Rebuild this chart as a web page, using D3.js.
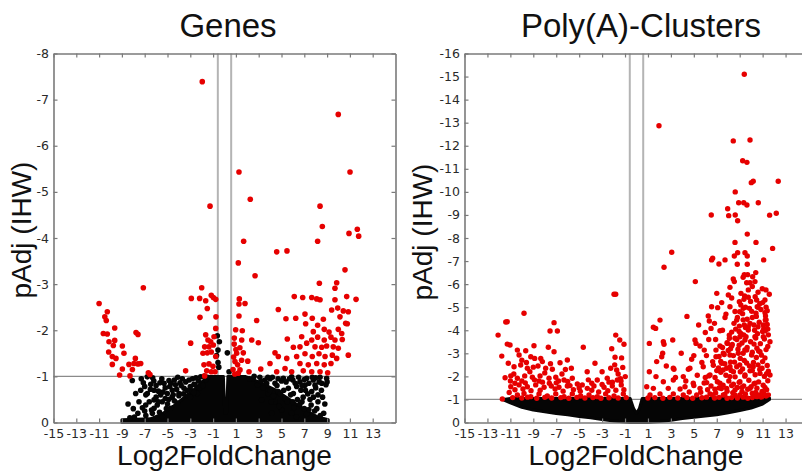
<!DOCTYPE html>
<html><head><meta charset="utf-8">
<script src="https://cdn.jsdelivr.net/npm/d3@7"></script>
<style>body{margin:0;background:#fff}svg{display:block}</style>
</head><body><svg id="chart" width="802" height="473"></svg>
<script>
// ---------------- data ----------------
const xTicks = [-15,-13,-11,-9,-7,-5,-3,-1,1,3,5,7,9,11,13];
const genesYTicks = [0,-1,-2,-3,-4,-5,-6,-7,-8];
const polyaYTicks = [0,-1,-2,-3,-4,-5,-6,-7,-8,-9,-10,-11,-12,-13,-14,-15,-16];
const foldThreshold = 0.585;
const padjThreshold = -1;
const panelTitles = ["Genes","Poly(A)-Clusters"];
const xTitle = "Log2FoldChange";
const yTitle = "pAdj (IHW)";

// Genes: saturated black core (x, upper edge)
const genesCoreX   = [-9.0,-6.5,-5.5,-4.5,-3.5,-2.5,-1.8,-1.3,-0.1,0.02,0.18,0.3,1.8,3.0,4.5,6.0,7.2,8.2,9.1];
const genesCoreTop = [-0.06,-0.08,-0.18,-0.35,-0.55,-0.75,-0.92,-1.0,-1.0,-0.2,-0.2,-1.0,-1.0,-0.88,-0.7,-0.45,-0.25,-0.12,-0.06];

const genesBlack = [
[-6.77,-0.99],[-8.09,-0.91],[-7.12,-0.86],[-7.0,-0.78],[-6.47,-0.83],[-6.18,-0.70],[-5.66,-0.86],[-4.87,-0.91],[-3.90,-0.86],[-3.11,-0.92],
[-6.18,-0.49],[-8.46,-0.40],[-5.6,-0.60],[-5.02,-0.63],[-4.58,-0.70],[-3.99,-0.63],[-3.55,-0.74],[-2.96,-0.70],[-2.68,-0.83],[-6.18,-0.31],
[-5.46,-0.45],[-6.77,-0.63],[-7.35,-0.70],[-7.79,-0.63],[-6.33,-0.20],[-5.46,-0.13],[-6.91,-0.38],[-2.09,-0.99],[-1.65,-0.92],[-2.39,-0.63],
[-4.14,-0.42],[-4.72,-0.31],
[-7.6,-0.2],[-7.2,-0.32],[-6.9,-0.15],[-6.6,-0.45],[-6.4,-0.27],[-6.0,-0.55],[-5.9,-0.38],[-5.7,-0.22],[-5.4,-0.66],[-5.2,-0.52],
[-5.0,-0.4],[-4.8,-0.78],[-4.6,-0.55],[-4.4,-0.47],[-4.2,-0.72],[-4.0,-0.58],[-3.8,-0.8],[-3.6,-0.62],[-3.4,-0.88],[-3.2,-0.58],
[-3.0,-0.78],[-2.8,-0.95],[-2.6,-0.82],[-2.3,-0.9],[-2.0,-0.85],[-1.8,-1.0],[-7.9,-0.12],[-8.3,-0.1],[-6.2,-0.9],[-5.3,-0.85],[-4.4,-0.92],
[-7.3,-0.95],[-6.9,-0.6],[-6.5,-0.72],[-6.3,-0.97],[-6.0,-0.8],[-5.8,-0.68],[-5.5,-0.95],[-5.2,-0.75],[-4.9,-0.5],[-4.7,-0.85],
[-4.3,-0.82],[-4.1,-0.98],[-3.7,-0.95],[-3.3,-0.7],[-3.0,-0.55],[-2.7,-0.65],[-2.5,-0.97],[-2.2,-0.75],[-1.9,-0.8],[-1.5,-0.98],
[-7.5,-0.45],[-7.0,-0.25],[-8.0,-0.3],[-5.8,-0.45],[-5.1,-0.3],[-4.5,-0.6],
[-0.63,-1.88],[-0.57,-1.57],[-0.57,-1.3],[0.25,-1.51],[-0.45,-1.75],[-0.5,-1.2],[0.4,-1.1],[-0.7,-1.45],
[3.55,-0.92],[4.43,-0.85],[5.16,-0.96],[5.89,-0.99],[6.62,-0.88],[7.21,-0.96],[7.79,-0.92],[8.38,-0.98],[8.96,-0.96],[6.62,-0.40],
[3.84,-0.63],[4.72,-0.67],[5.6,-0.74],[6.33,-0.78],[7.06,-0.81],[7.94,-0.81],[5.31,-0.52],[6.04,-0.63],[4.43,-0.45],[3.26,-0.49],
[7.65,-0.67],[8.53,-0.85],[5.02,-0.27],[5.89,-0.2],[4.14,-0.2],[2.5,-0.95],[3.1,-0.98],[4.0,-0.95],[7.5,-0.5],[8.2,-0.6],[6.9,-0.55],
[2.2,-0.95],[2.6,-1.0],[2.9,-0.82],[3.2,-0.9],[3.4,-0.75],[3.7,-0.85],[4.0,-0.7],[4.3,-0.58],[4.6,-0.8],[4.9,-0.62],
[5.2,-0.7],[5.5,-0.45],[5.8,-0.6],[6.1,-0.32],[6.4,-0.5],[6.7,-0.7],[7.0,-0.3],[7.3,-0.62],[7.6,-0.38],[7.9,-0.25],
[8.2,-0.45],[8.5,-0.7],[8.7,-0.2],[8.9,-0.82],[5.0,-0.9],[6.0,-0.92],[7.0,-0.93],[8.0,-0.97],[4.1,-0.45],[4.8,-0.35],[6.3,-0.12],[7.2,-0.18],
[5.4,-0.88],[5.7,-0.95],[6.2,-0.85],[6.5,-0.98],[6.8,-0.8],[7.1,-0.7],[7.4,-0.85],[7.7,-0.98],[8.0,-0.75],[8.3,-0.88],
[8.6,-0.55],[8.8,-0.4],[9.0,-0.88],[7.8,-0.55],[7.4,-0.28],[8.1,-0.3],[8.4,-0.15],[6.8,-0.45],[6.0,-0.45],[4.2,-0.98],[3.8,-0.98],[4.7,-0.95]
];

const genesRed = [
[-1.95,-7.39],[-1.27,-4.69],[-7.12,-2.92],[-11.0,-2.58],[-10.28,-2.40],[-10.5,-2.29],[-10.37,-2.21],[-10.63,-1.93],[-10.28,-1.92],[-9.63,-2.05],
[-10.13,-1.75],[-9.63,-1.78],[-9.75,-1.67],[-8.96,-1.66],[-10.16,-1.53],[-9.84,-1.43],[-9.52,-1.39],[-9.84,-1.26],[-8.82,-1.50],[-8.96,-1.16],
[-9.2,-1.03],[-8.38,-1.26],[-8.08,-1.15],[-7.82,-1.39],[-7.94,-1.28],[-7.59,-1.27],[-7.35,-1.28],[-8.29,-1.01],[-7.76,-1.95],[-7.59,-1.91],
[-6.68,-1.08],[-6.54,-1.04],[-3.41,-1.12],[-2.97,-1.72],[-2.91,-2.69],[-2.0,-2.92],[-2.18,-2.69],[-1.65,-2.64],[-1.16,-2.76],[-0.98,-2.71],
[-0.77,-2.67],[-1.51,-2.47],[-2.15,-2.28],[-0.75,-2.29],[-0.77,-2.04],[-1.65,-1.90],[-1.45,-1.79],[-1.21,-1.75],[-0.92,-1.86],[-1.74,-1.64],
[-1.36,-1.64],[-0.98,-1.68],[-1.89,-1.5],[-1.51,-1.51],[-1.16,-1.53],[-0.77,-1.43],[-1.8,-1.25],[-1.36,-1.27],[-1.01,-1.22],[-1.56,-1.12],
[-1.16,-1.10],[-0.83,-1.10],[-1.74,-1.01],
[9.98,-6.68],[1.27,-5.43],[11.01,-5.43],[2.26,-4.84],[8.38,-4.69],[8.58,-4.25],[1.68,-3.93],[8.17,-3.93],[10.92,-4.10],[11.65,-4.19],
[11.77,-4.04],[4.58,-3.70],[5.48,-3.72],[1.21,-3.46],[2.68,-3.18],[10.57,-3.31],[8.32,-3.02],[9.84,-3.03],[9.69,-2.91],[1.30,-2.68],
[1.27,-2.57],[1.80,-2.58],[6.12,-2.73],[6.86,-2.71],[7.65,-2.71],[8.09,-2.68],[8.38,-2.66],[9.69,-2.66],[10.72,-2.73],[11.54,-2.67],
[4.72,-2.45],[9.40,-2.44],[9.93,-2.48],[10.42,-2.42],[10.86,-2.40],[1.27,-2.31],[5.39,-2.25],[6.25,-2.26],[7.06,-2.35],[7.70,-2.26],
[8.17,-2.11],[8.67,-2.24],[10.13,-2.29],[10.63,-2.15],[10.77,-2.14],[2.82,-2.21],[0.98,-2.01],[1.56,-1.99],[7.12,-2.14],[7.79,-1.97],
[8.75,-2.02],[9.17,-1.96],[9.98,-2.02],[10.28,-1.93],[0.86,-1.83],[1.51,-1.79],[2.39,-1.79],[2.97,-1.73],[5.51,-1.81],[6.77,-1.86],
[7.65,-1.79],[8.17,-1.85],[8.75,-1.79],[9.34,-1.85],[9.69,-1.79],[10.33,-1.80],[6.04,-1.63],[6.62,-1.64],[7.21,-1.72],[7.94,-1.64],
[8.53,-1.63],[8.96,-1.66],[9.54,-1.64],[9.98,-1.61],[10.86,-1.46],[1.07,-1.50],[1.65,-1.51],[4.43,-1.51],[4.72,-1.43],[5.46,-1.39],
[6.33,-1.43],[7.06,-1.49],[7.70,-1.43],[8.29,-1.49],[8.82,-1.43],[9.46,-1.46],[9.84,-1.39],[0.92,-1.32],[2.04,-1.33],[3.99,-1.28],
[3.18,-1.16],[6.62,-1.28],[7.35,-1.25],[8.09,-1.28],[8.75,-1.25],[9.34,-1.28],[1.36,-1.14],[2.15,-1.10],[4.58,-1.10],[5.89,-1.10],
[6.91,-1.12],[7.65,-1.10],[8.38,-1.10],[9.05,-1.08],[1.21,-1.07],[5.31,-1.17],
[0.85,-1.7],[1.0,-1.58],[0.8,-1.42],[1.15,-1.25],[0.75,-1.15],[1.35,-1.62],[1.5,-1.35],[0.9,-1.05]
];

// Poly(A)-Clusters: saturated black band (x, upper edge, lower edge)
const polyaCoreX      = [-11.6,-11,-10,-9,-8,-7,-6,-5,-4,-3,-2,-1,-0.55,-0.25,0,0.25,0.5,1,2,3,4,5,6,7,8,9,10,11,11.6];
const polyaCoreTop    = [-1.0,-1.04,-1.04,-1.04,-1.04,-1.04,-1.04,-1.04,-1.04,-1.04,-1.04,-1.04,-1.04,-0.6,-0.4,-0.6,-1.04,-1.04,-1.04,-1.04,-1.04,-1.04,-1.04,-1.05,-1.06,-1.07,-1.08,-1.1,-1.06];
const polyaCoreBottom = [-0.98,-0.85,-0.66,-0.54,-0.47,-0.39,-0.33,-0.26,-0.2,-0.13,-0.07,-0.02,0,0,0,0,0,0,-0.04,-0.1,-0.17,-0.23,-0.28,-0.34,-0.42,-0.52,-0.63,-0.8,-1.0];

const polyaRed = [
[9.40,-15.10],[1.96,-12.87],[8.44,-12.21],[9.90,-12.25],[9.26,-11.35],[9.63,-11.28],[10.01,-10.40],[10.18,-10.46],[12.36,-10.46],[8.61,-10.0],
[8.91,-9.53],[9.35,-9.53],[9.63,-9.43],[10.62,-9.53],[7.95,-9.27],[6.52,-9.0],[8.04,-8.97],[8.61,-9.0],[8.82,-8.75],[11.61,-8.99],
[12.19,-9.07],[9.66,-8.17],[8.59,-7.81],[10.42,-7.81],[11.87,-7.55],
[3.07,-7.38],[2.40,-6.73],[6.64,-7.12],[6.55,-7.05],[7.19,-6.87],[7.72,-7.05],[8.53,-7.22],[8.82,-7.36],[9.46,-7.36],[9.66,-7.22],
[8.79,-6.86],[9.66,-6.86],[11.09,-7.05],[5.13,-6.11],[9.40,-6.41],[9.69,-6.41],[10.13,-6.32],[8.44,-6.22],[8.53,-6.11],[9.61,-6.06],
[9.9,-6.06],[10.33,-6.11],[10.97,-5.80],[11.29,-5.75],[8.15,-5.86],[8.01,-5.53],[9.11,-5.60],[9.43,-5.49],[9.75,-5.43],[11.58,-5.56],
[7.43,-5.20],[7.08,-4.98],[6.55,-5.02],[8.15,-5.02],[8.97,-5.24],[9.37,-5.34],[10.48,-5.31],[11.0,-5.2],[11.2,-5.31],[10.53,-5.02],
[9.31,-4.95],[8.59,-4.81],[10.42,-4.74],[11.20,-4.76],[6.26,-4.62],[7.72,-4.55],[6.35,-4.40],[2.05,-4.44],[1.47,-4.13],[1.67,-4.08],
[5.42,-4.23],[6.50,-4.08],[7.28,-3.98],[8.74,-4.44],[8.97,-4.18],[9.40,-4.23],[9.75,-4.01],[10.24,-4.23],[11.06,-4.23],[11.23,-4.44],
[11.23,-3.98],[8.09,-3.79],[8.59,-3.65],[9.02,-3.72],[9.46,-3.58],[10.33,-3.72],[11.06,-3.72],[1.12,-3.43],[2.34,-3.50],[3.16,-3.58],
[5.10,-3.58],[5.19,-3.43],[5.54,-3.32],[5.91,-3.14],[6.93,-3.14],[7.28,-3.32],[7.92,-3.43],[8.30,-3.32],[11.64,-3.50],[2.28,-3.0],
[2.20,-2.85],[6.93,-2.85],[7.57,-3.0],[8.15,-2.93],[8.88,-3.0],[9.61,-3.14],[10.04,-2.93],[10.77,-3.07],[4.81,-2.74],[6.64,-2.64],
[7.43,-2.57],[1.12,-2.20],[3.21,-2.35],[4.66,-2.35],[5.82,-2.42],[7.86,-2.35],[8.74,-2.42],[10.18,-2.42],[11.64,-2.06],[1.70,-1.99],
[4.08,-1.99],[6.41,-2.06],[8.15,-1.99],[9.46,-2.06],[10.77,-2.13],[2.34,-1.77],[3.21,-1.84],[4.95,-1.70],[6.12,-1.73],[7.28,-1.70],
[9.02,-1.77],[10.33,-1.70],[0.89,-1.55],[1.47,-1.48],[2.77,-1.48],[4.23,-1.55],[5.54,-1.48],[6.84,-1.44],[7.86,-1.48],[8.59,-1.41],
[9.90,-1.48],[10.71,-1.19],[1.18,-1.19],[2.05,-1.24],[3.21,-1.24],[4.08,-1.19],[5.25,-1.19],[6.41,-1.24],[7.57,-1.19],[9.02,-1.19],
[10.18,-1.19],[3.27,-2.31],[2.40,-3.39],[1.76,-2.64],[4.52,-2.31],
[-1.96,-5.56],[-1.81,-5.56],[-9.81,-4.74],[-11.4,-4.36],[-11.27,-4.37],[-7.19,-4.33],[-7.54,-3.97],[-6.90,-3.97],[-12.07,-3.79],[-11.27,-3.40],
[-11.03,-3.36],[-8.94,-3.33],[-7.69,-3.26],[-7.19,-3.07],[-4.64,-3.26],[-2.16,-3.20],[-1.81,-3.79],[-1.46,-3.58],[-1.09,-3.39],[-11.75,-2.88],
[-10.39,-3.14],[-9.66,-3.11],[-10.24,-2.93],[-9.22,-2.85],[-8.88,-2.78],[-8.35,-2.78],[-8.21,-2.64],[-6.67,-2.59],[-6.03,-2.71],[-3.62,-2.57],
[-1.87,-2.83],[-11.18,-2.57],[-10.68,-2.42],[-10.10,-2.49],[-9.52,-2.35],[-8.59,-2.45],[-7.92,-2.35],[-7.34,-2.31],[-5.68,-2.35],[-2.25,-2.35],
[-1.73,-2.28],[-1.20,-2.39],[-11.46,-1.94],[-10.97,-2.02],[-10.39,-1.92],[-9.75,-2.02],[-9.08,-1.96],[-8.41,-2.02],[-7.63,-1.92],[-7.04,-1.96],
[-6.32,-1.84],[-5.60,-1.92],[-5.16,-1.67],[-4.29,-1.48],[-3.42,-1.84],[-2.55,-1.92],[-1.67,-1.84],[-0.98,-1.99],[-10.97,-1.55],[-10.24,-1.63],
[-9.52,-1.55],[-8.79,-1.63],[-8.06,-1.53],[-7.43,-1.58],[-6.76,-1.53],[-6.03,-1.58],[-4.73,-1.63],[-3.71,-1.58],[-2.83,-1.53],[-2.11,-1.58],
[-1.33,-1.63],[-10.39,-1.19],[-9.81,-1.26],[-9.22,-1.12],[-8.50,-1.24],[-7.78,-1.15],[-7.04,-1.24],[-6.32,-1.12],[-5.60,-1.24],[-4.87,-1.15],
[-4.14,-1.19],[-3.42,-1.12],[-2.69,-1.24],[-1.96,-1.15],[-1.15,-1.24],[-11.70,-1.02],
[-10.8,-1.08],[-10.0,-1.06],[-9.5,-1.1],[-8.7,-1.05],[-8.0,-1.09],[-7.4,-1.06],[-6.6,-1.08],[-5.9,-1.05],[-5.2,-1.09],[-4.5,-1.06],
[-3.8,-1.08],[-3.1,-1.05],[-2.4,-1.07],[-1.6,-1.06],[-0.9,-1.08],[-11.1,-1.3],[-10.6,-1.42],[-9.9,-1.45],[-9.2,-1.38],[-8.4,-1.4],
[-7.1,-1.45],[-6.4,-1.36],[-5.5,-1.42],[-4.9,-1.35],[-3.9,-1.4],[-3.3,-1.32],[-2.5,-1.38],[-1.8,-1.4],[-1.1,-1.42],[-10.0,-1.8],
[-8.9,-1.85],[-8.2,-1.75],[-7.0,-1.72],[-6.0,-1.78],[-4.2,-1.85],[-2.1,-1.75],[-1.4,-1.9],[-10.7,-2.1],[-9.3,-2.2],[-8.0,-2.15],
[-6.5,-2.1],[-1.6,-2.1],[-1.9,-2.5],[-10.0,-2.7],[-9.6,-2.6],
[-10.6,-1.7],[-9.7,-1.72],[-8.5,-1.8],[-7.6,-1.7],[-6.8,-1.8],[-5.8,-1.6],[-5.0,-1.5],[-3.9,-1.7],[-3.0,-1.65],[-2.4,-1.75],
[-1.35,-1.8],[-11.0,-1.8],[-9.0,-2.4],[-7.5,-2.55],[-6.2,-2.3],[-4.3,-2.2],[-3.0,-2.2],[-1.3,-2.8],
[1.0,-1.06],[1.6,-1.08],[2.3,-1.05],[2.9,-1.09],[3.6,-1.06],[4.4,-1.08],[4.9,-1.05],[5.7,-1.07],[6.1,-1.1],[6.8,-1.06],
[7.2,-1.09],[7.9,-1.05],[8.3,-1.08],[8.8,-1.06],[9.3,-1.1],[9.7,-1.05],[10.1,-1.08],[10.5,-1.12],[10.9,-1.1],[11.3,-1.15],[11.5,-1.2],
[5.6,-1.31],[6.2,-1.42],[6.9,-1.28],[7.4,-1.47],[7.9,-1.36],[8.4,-1.29],[8.8,-1.52],[9.2,-1.34],[9.7,-1.44],[10.1,-1.27],[10.5,-1.49],[10.95,-1.35],[11.35,-1.42],
[5.9,-1.71],[6.5,-1.58],[7.05,-1.77],[7.55,-1.62],[8.05,-1.8],[8.45,-1.66],[8.95,-1.74],[9.35,-1.59],[9.8,-1.83],[10.25,-1.68],[10.65,-1.76],[11.05,-1.62],[11.45,-1.81],
[6.3,-2.02],[6.85,-1.95],[7.35,-2.18],[7.8,-2.05],[8.25,-2.26],[8.6,-1.98],[9.05,-2.2],[9.45,-2.01],[9.9,-2.24],[10.35,-2.07],[10.75,-2.3],[11.15,-2.0],[11.5,-2.22],
[6.7,-2.48],[7.15,-2.36],[7.7,-2.55],[8.15,-2.42],[8.55,-2.62],[9.0,-2.5],[9.4,-2.69],[9.85,-2.45],[10.2,-2.6],[10.6,-2.5],[11.0,-2.64],[11.4,-2.47],
[7.2,-2.86],[7.65,-2.95],[8.0,-3.12],[8.45,-2.9],[8.85,-3.18],[9.3,-3.0],[9.65,-3.25],[10.1,-3.05],[10.5,-3.22],[10.9,-2.92],[11.3,-3.16],
[7.9,-3.46],[8.35,-3.38],[8.75,-3.6],[9.2,-3.45],[9.55,-3.72],[9.95,-3.5],[10.4,-3.66],[10.8,-3.42],[11.15,-3.62],[11.5,-3.8],
[8.3,-3.92],[8.65,-4.05],[9.1,-3.86],[9.5,-4.12],[9.9,-4.3],[10.3,-4.0],[10.7,-4.35],[11.1,-4.08],[11.4,-4.25],
[8.8,-4.55],[9.25,-4.72],[9.65,-4.48],[10.05,-4.82],[10.45,-4.6],[10.85,-4.9],[11.25,-4.62],
[9.1,-5.1],[9.5,-5.0],[9.95,-5.25],[10.35,-5.45],[10.75,-5.15],[11.3,-5.0],
[9.75,-5.75],[10.1,-5.9],[10.6,-5.65],[9.3,-6.3],[10.4,-6.5],
[4.6,-1.32],[5.0,-1.6],[5.3,-2.05],[5.7,-2.6],[6.1,-2.9],[6.3,-3.6],[5.0,-2.9],[4.3,-1.8],[3.8,-1.45],[3.4,-1.95],
[2.6,-2.45],[3.9,-3.0],[4.4,-4.6],[6.0,-3.9],[6.9,-3.6],[7.5,-4.0],[7.8,-4.7],[8.3,-5.4],[7.0,-5.6],[6.8,-4.3],
[6.6,-1.2],[7.7,-1.22],[8.6,-1.18],[9.5,-1.24],[10.4,-1.3],[11.1,-1.25],
[6.0,-1.95],[7.2,-1.5],[8.3,-1.6],[9.2,-1.52],[10.0,-1.55],[11.2,-1.52],
[7.0,-2.25],[7.55,-2.28],[8.45,-2.2],[9.25,-2.32],[10.1,-2.25],[10.95,-2.35],[11.35,-2.12],
[7.35,-2.65],[8.2,-2.62],[9.05,-2.78],[9.6,-2.58],[10.45,-2.82],[11.2,-2.8],
[7.5,-3.25],[8.2,-3.2],[8.95,-3.35],[9.45,-3.15],[10.25,-3.4],[10.65,-3.1],[11.45,-3.3],
[8.1,-3.65],[8.95,-3.95],[9.35,-3.8],[9.75,-4.15],[10.55,-3.85],[11.0,-3.95],[11.45,-4.05],
[8.5,-4.3],[9.3,-4.45],[10.1,-4.55],[10.6,-4.15],[11.3,-4.45],
[9.0,-4.8],[9.85,-4.95],[10.6,-5.0],[11.4,-4.85]
];

// ---------------- drawing ----------------
const svg = d3.select("#chart");
svg.append("rect").attr("width",802).attr("height",473).attr("fill","#fff");

const RED = "#e60000", BLACK = "#050505", FRAME = "#7a7a7a";

function drawPanel(o) {
  const g = svg.append("g");
  const x = o.x, y = o.y;
  const [x0, x1] = x.domain();
  const yMax = o.yTicks[o.yTicks.length - 1];

  g.append("line").attr("x1", x(x0)).attr("x2", x(x1))
    .attr("y1", y(padjThreshold)).attr("y2", y(padjThreshold))
    .attr("stroke", "#8a8a8a").attr("stroke-width", 1.2);
  [-foldThreshold, foldThreshold].forEach(v => {
    g.append("line").attr("x1", x(v)).attr("x2", x(v))
      .attr("y1", y(0)).attr("y2", y(yMax))
      .attr("stroke", "#b4b4b4").attr("stroke-width", 2);
  });

  const area = d3.area()
    .x(i => x(o.coreX[i]))
    .y0(i => y(o.coreBottom ? o.coreBottom[i] : 0))
    .y1(i => y(o.coreTop[i]))
    .curve(d3.curveLinear);
  g.append("path").datum(d3.range(o.coreX.length))
    .attr("d", area).attr("fill", BLACK)
    .attr("stroke", BLACK).attr("stroke-width", 3).attr("stroke-linejoin", "round");

  g.selectAll("circle.b").data(o.black || []).join("circle").attr("class","b")
    .attr("cx", d => x(d[0])).attr("cy", d => y(d[1])).attr("r", o.r).attr("fill", BLACK);
  g.selectAll("circle.r").data(o.red).join("circle").attr("class","r")
    .attr("cx", d => x(d[0])).attr("cy", d => y(d[1])).attr("r", o.r).attr("fill", RED);

  const fmt = d => String(d);
  const ax = [
    g.append("g").attr("transform", `translate(0,${y(0)})`)
      .call(d3.axisBottom(x).tickValues(xTicks).tickSize(-4).tickSizeOuter(0).tickPadding(6.5).tickFormat(fmt)),
    g.append("g").attr("transform", `translate(0,${y(yMax)})`)
      .call(d3.axisTop(x).tickValues(xTicks).tickSize(-4).tickSizeOuter(0).tickFormat("")),
    g.append("g").attr("transform", `translate(${x(x0)},0)`)
      .call(d3.axisLeft(y).tickValues(o.yTicks).tickSize(-4).tickSizeOuter(0).tickPadding(4.5).tickFormat(fmt)),
    g.append("g").attr("transform", `translate(${x(x1)},0)`)
      .call(d3.axisRight(y).tickValues(o.yTicks).tickSize(-4).tickSizeOuter(0).tickFormat(""))
  ];
  ax.forEach(a => {
    a.select(".domain").attr("stroke", FRAME).attr("stroke-width", 1.6);
    a.selectAll(".tick line").attr("stroke", FRAME).attr("stroke-width", 1.2);
    a.selectAll(".tick text").attr("fill", "#2a2a2a")
      .style("font-family", "'DejaVu Sans', sans-serif").style("font-size", "12.5px");
  });

  const sans = "'Liberation Sans', Arial, sans-serif";
  g.append("text").attr("x", o.titleX).attr("y", 37).attr("text-anchor", "middle")
    .style("font-family", sans).style("font-size", "33px").attr("fill", "#111").text(o.title);
  g.append("text").attr("x", o.xTitleX).attr("y", 465).attr("text-anchor", "middle")
    .style("font-family", sans).style("font-size", "28px").attr("fill", "#111").text(xTitle);
  g.append("text").attr("transform", `translate(${o.yTitleX},${o.yTitleY}) rotate(-90)`)
    .attr("text-anchor", "middle")
    .style("font-family", sans).style("font-size", "28px").attr("fill", "#111").text(yTitle);
}

drawPanel({
  x: d3.scaleLinear([-15, 15], [53.5, 395.5]),
  y: d3.scaleLinear([0, -8], [422.5, 53.5]),
  yTicks: genesYTicks, coreX: genesCoreX, coreTop: genesCoreTop,
  black: genesBlack, red: genesRed, r: 2.8,
  title: panelTitles[0], titleX: 228, xTitleX: 224.5, yTitleX: 31, yTitleY: 230
});
drawPanel({
  x: d3.scaleLinear([-15, 15], [464.5, 808.5]),
  y: d3.scaleLinear([0, -16], [422.5, 53.5]),
  yTicks: polyaYTicks, coreX: polyaCoreX, coreTop: polyaCoreTop, coreBottom: polyaCoreBottom,
  black: [], red: polyaRed, r: 2.7,
  title: panelTitles[1], titleX: 641, xTitleX: 636, yTitleX: 432, yTitleY: 232
});
</script></body></html>
